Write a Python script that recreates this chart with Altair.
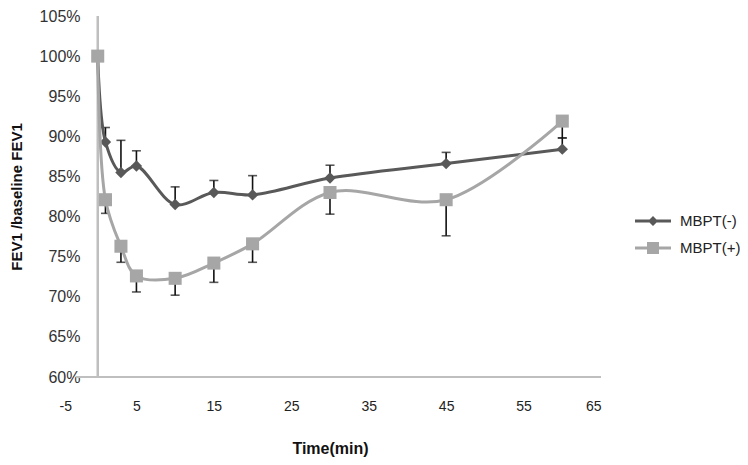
import altair as alt
import pandas as pd

# ---- data ----
time_min = [0, 1, 3, 5, 10, 15, 20, 30, 45, 60]
mbpt_neg = [100, 89.3, 85.5, 86.3, 81.5, 83.0, 82.7, 84.8, 86.6, 88.4]
mbpt_neg_err = [0, 1.8, 4.0, 1.9, 2.2, 1.5, 2.4, 1.6, 1.4, 1.4]   # upper bars
mbpt_pos = [100, 82.1, 76.3, 72.6, 72.3, 74.2, 76.6, 83.0, 82.1, 91.9]
mbpt_pos_err = [0, 1.7, 2.0, 2.0, 2.1, 2.4, 2.3, 2.7, 4.5, 2.1]    # lower bars

series_names = ["MBPT(-)", "MBPT(+)"]
series_colors = ["#595959", "#A6A6A6"]
marker_shapes = ["diamond", "square"]
marker_sizes = [130, 170]
# legend glyphs: a short line segment (thin filled bar) with the series marker on it
legend_shapes = [
    "M-1.8,-0.15L1.8,-0.15L1.8,0.15L-1.8,0.15Z M0,-0.5L0.5,0L0,0.5L-0.5,0Z",
    "M-1.8,-0.15L1.8,-0.15L1.8,0.15L-1.8,0.15Z M-0.6,-0.6L0.6,-0.6L0.6,0.6L-0.6,0.6Z",
]

x_ticks = [-5, 5, 15, 25, 35, 45, 55, 65]
y_ticks = [60, 65, 70, 75, 80, 85, 90, 95, 100, 105]
x_domain = [-5, 65]
y_domain = [60, 105]
x_axis_start = -2.7

rows = []
for i, t in enumerate(time_min):
    rows.append({"time": t, "value": mbpt_neg[i], "series": series_names[0],
                 "end": mbpt_neg[i] + mbpt_neg_err[i]})
    rows.append({"time": t, "value": mbpt_pos[i], "series": series_names[1],
                 "end": mbpt_pos[i] - mbpt_pos_err[i]})
df = pd.DataFrame(rows)
df_err = df[df["time"] > 0]

FONT = "Liberation Sans"

x_scale = alt.Scale(domain=x_domain, nice=False, zero=False)
y_scale = alt.Scale(domain=y_domain, nice=False, zero=False)

x_enc = alt.X("time:Q", scale=x_scale,
              axis=alt.Axis(values=x_ticks, title="Time(min)", domain=False, ticks=False,
                            grid=False, labelPadding=22, labelFontSize=14, labelFont=FONT,
                            labelExpr="'' + datum.value",
                            labelColor="#222222", titleFont=FONT, titleFontSize=16,
                            titleFontWeight="bold", titlePadding=27, titleColor="#111111"))
y_enc = alt.Y("value:Q", scale=y_scale,
              axis=alt.Axis(values=y_ticks, title="FEV1 /baseline FEV1", domain=False,
                            ticks=False, grid=False, offset=-39, labelPadding=18,
                            labelExpr="datum.value + '%'", labelFontSize=16, labelFont=FONT,
                            labelColor="#333333", titleFont=FONT, titleFontSize=15,
                            titleFontWeight="bold", titlePadding=15, titleColor="#111111"))

vline = alt.Chart(df).mark_rule(color="#BFBFBF", strokeWidth=1.5).encode(
    x=alt.datum(0, scale=x_scale), y=alt.datum(y_domain[0]), y2=alt.datum(y_domain[1]))
hline = alt.Chart(df).mark_rule(color="#BFBFBF", strokeWidth=1.5).encode(
    y=alt.datum(y_domain[0]), x=alt.datum(x_axis_start), x2=alt.datum(x_domain[1]))

err_rule = alt.Chart(df_err).mark_rule(color="#111111", strokeWidth=1.6).encode(
    x=x_enc, y=y_enc, y2="end:Q")
err_cap = alt.Chart(df_err).mark_tick(color="#111111", thickness=1.6, size=9,
                                      orient="horizontal").encode(
    x="time:Q", y="end:Q")

series_layers = []
for name, col, shp, sz in zip(series_names, series_colors, marker_shapes, marker_sizes):
    sub = alt.Chart(df).transform_filter(alt.datum.series == name)
    series_layers.append(
        sub.mark_line(strokeWidth=3, interpolate="catmull-rom", color=col).encode(
            x=x_enc, y=y_enc, order="time:Q")
    )
    series_layers.append(
        sub.mark_point(filled=True, opacity=1, strokeWidth=0, shape=shp, size=sz, color=col
                       ).encode(x=x_enc, y=y_enc)
    )

# legend carrier: marks placed outside the clipped plot area, only the legend shows
legend_layer = alt.Chart(df).mark_point(
    filled=True, opacity=1, strokeWidth=0, size=400, clip=True).encode(
    x=alt.value(-500), y=alt.value(-500),
    color=alt.Color("series:N", scale=alt.Scale(domain=series_names, range=series_colors),
                    legend=alt.Legend(title=None)),
    shape=alt.Shape("series:N", scale=alt.Scale(domain=series_names, range=legend_shapes),
                    legend=alt.Legend(title=None)),
)

chart = alt.layer(vline, hline, err_rule, err_cap, *series_layers, legend_layer).properties(
    width=542, height=361,
    padding={"left": 51, "top": 8, "right": 139, "bottom": 80},
    autosize=alt.AutoSizeParams(type="none"),
).configure_view(stroke=None).configure_legend(
    orient="none", legendX=583, legendY=194, symbolSize=400,
    labelFontSize=15, labelFont=FONT, labelColor="#222222", labelOffset=16,
    rowPadding=8, padding=0, symbolOpacity=1,
)

chart.save("out.html", embed_options={"renderer": "svg", "actions": False})
